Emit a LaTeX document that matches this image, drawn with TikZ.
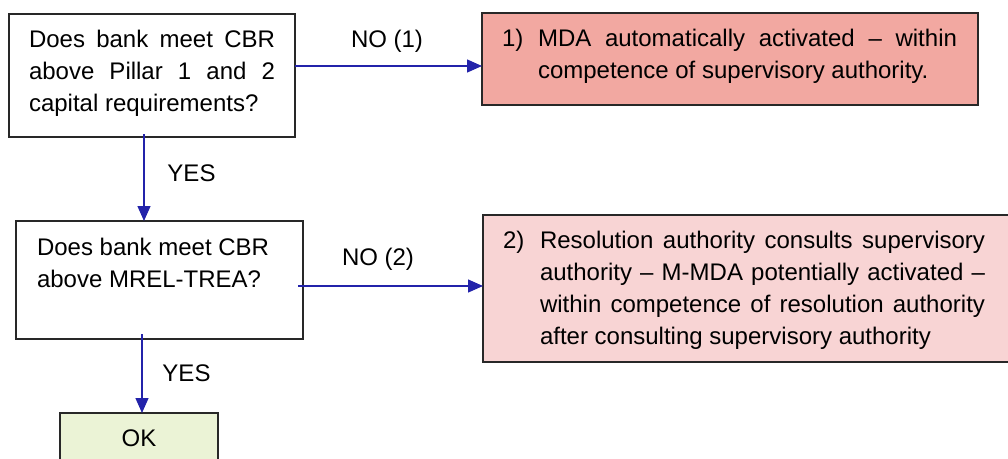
\documentclass[tikz,border=0pt]{standalone}
\usepackage{fontspec}
\setmainfont{Liberation Sans}
\usetikzlibrary{arrows.meta}
\definecolor{arrowblue}{RGB}{35,35,170}
\definecolor{mdafill}{RGB}{242,168,161}
\definecolor{resfill}{RGB}{248,212,212}
\definecolor{okfill}{RGB}{235,243,214}
\definecolor{boxline}{RGB}{40,40,40}
\tikzset{
  box/.style={draw=boxline, line width=1.2pt, inner sep=0pt, outer sep=0pt, anchor=north west},
  txt/.style={inner sep=0pt, outer sep=0pt, font=\fontsize{24}{32}\selectfont},
  arr/.style={draw=arrowblue, line width=1.3pt, -{Triangle[length=15pt,width=13pt]}},
}
\begin{document}
\begin{tikzpicture}[x=1pt,y=-1pt]
\useasboundingbox (0,0) rectangle (1008,458);
% boxes
\node[box, fill=white, minimum width=286pt, minimum height=123pt] (box1) at (9,14) {};
\node[box, fill=mdafill, minimum width=496pt, minimum height=92pt] (mda) at (482,13) {};
\node[box, fill=white, minimum width=287pt, minimum height=118pt] (box2) at (16,221) {};
\node[box, fill=resfill, minimum width=532pt, minimum height=147pt] (res) at (483,215) {};
\node[box, fill=okfill, minimum width=158pt, minimum height=60pt] (ok) at (60,413) {};
% texts
\node[txt, anchor=north west, text width=246pt, align=justify] (t1) at (29,30)
  {\tolerance=9999\hyphenpenalty=10000 Does bank meet CBR\linebreak above Pillar 1 and 2\linebreak capital requirements?};
\node[txt, anchor=north west] (n1) at (502,29) {1)};
\node[txt, anchor=north west, text width=419pt, align=justify] (t2) at (538,29)
  {\tolerance=9999\hyphenpenalty=10000 MDA automatically activated -- within\linebreak competence of supervisory authority.};
\node[txt, anchor=north west, align=left] (t3) at (37,238)
  {Does bank meet CBR\\above MREL-TREA?};
\node[txt, anchor=north west] (n2) at (503,231) {2)};
\node[txt, anchor=north west, text width=445pt, align=justify] (t4) at (540,231)
  {\tolerance=9999\hyphenpenalty=10000 Resolution authority consults supervisory\linebreak authority -- M-MDA potentially activated --\linebreak within competence of resolution authority\linebreak after consulting supervisory authority};
\node[txt] (t5) at (139,438) {OK};
% labels
\node[txt, anchor=base] (no1) at (387,47.5) {NO (1)};
\node[txt, anchor=base] (no2) at (378,265.5) {NO (2)};
\node[txt, anchor=base] (yes1) at (191.5,181.5) {YES};
\node[txt, anchor=base] (yes2) at (186.5,381.5) {YES};
% connectors
\coordinate (c1) at (295,66);
\coordinate (c2) at (298,286);
\coordinate (c3) at (144,134);
\coordinate (c4) at (142,334);
\draw[arr] (box1.east |- c1) -- (mda.west |- c1);
\draw[arr] (c2) -- (res.west |- c2);
\draw[arr] (c3) -- (c3 |- box2.north);
\draw[arr] (c4) -- (c4 |- ok.north);
\end{tikzpicture}
\end{document}
